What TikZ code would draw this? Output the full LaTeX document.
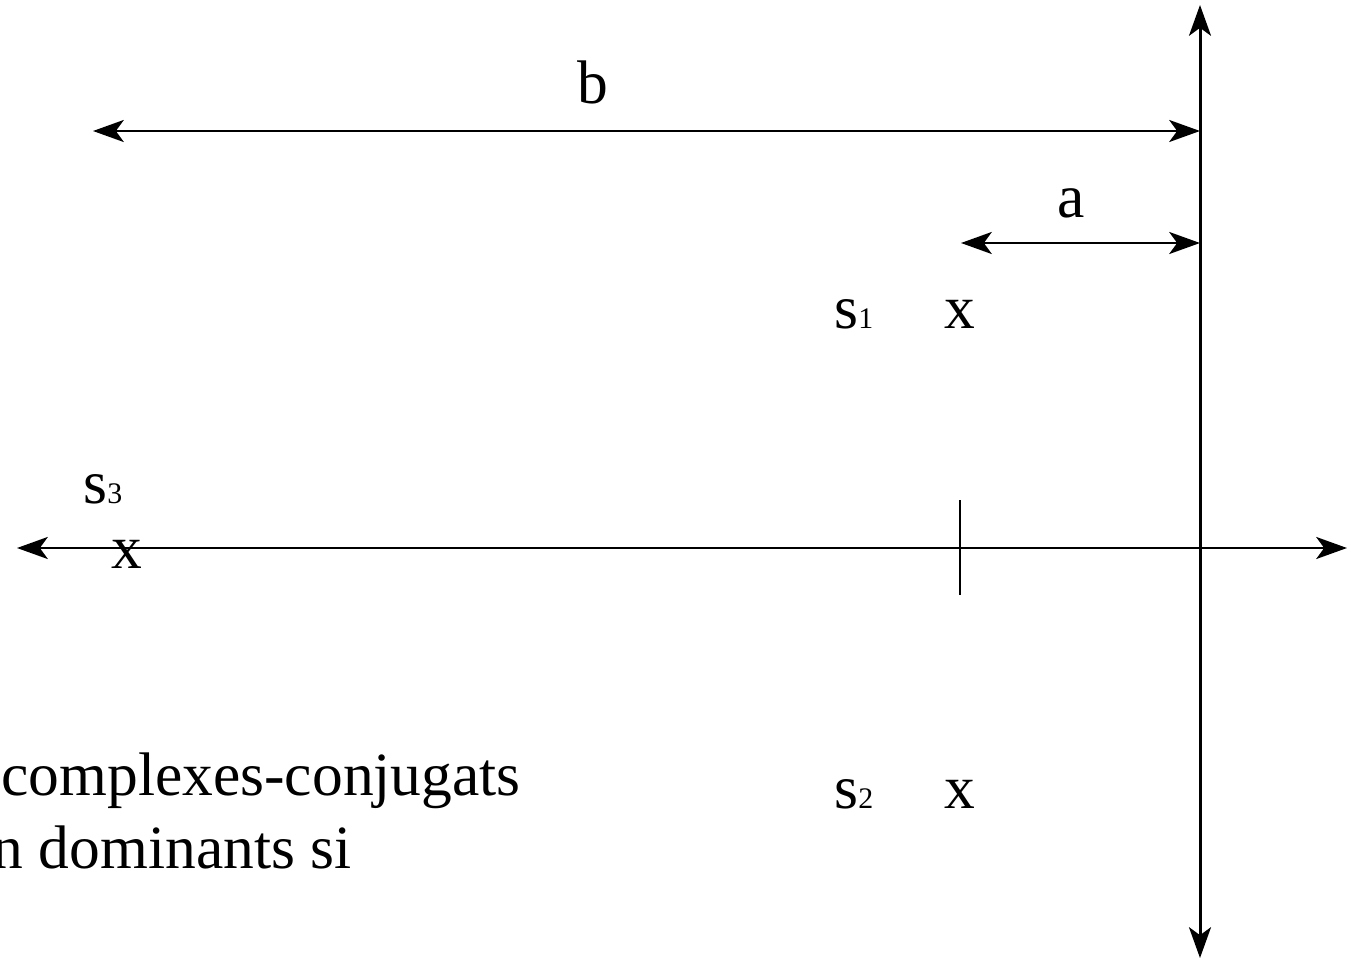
\documentclass[tikz,border=0pt]{standalone}
\usepackage{fontspec}
\setmainfont{Liberation Serif}
\usetikzlibrary{arrows.meta}
\newcommand{\idx}[1]{{\fontsize{17}{20}\selectfont #1}}

\begin{document}
\begin{tikzpicture}[x=0.02cm,y=-0.02cm,>={Stealth[length=17.5pt,width=12.5pt,inset=4.5pt]},line width=1.7pt,every node/.style={font=\fontsize{35}{42}\selectfont,inner sep=0pt},lbl/.style={anchor=base}]
\useasboundingbox (0,0) rectangle (1347,960);
\clip (0,0) rectangle (1347,960);
% axes
\coordinate (reW) at (17,548);
\coordinate (reE) at (1347,548);
\coordinate (imN) at (1200,5);
\coordinate (imS) at (1200,958);
\draw[<->] (reW)--(reE);
\draw[<->] (imS)--(imN);
\coordinate (tickN) at (960,500);
\coordinate (tickS) at (960,595);
\draw (tickN)--(tickS);
% distances
\coordinate (bW) at (93,131);
\coordinate (bE) at (1200,131);
\coordinate (aW) at (961,243);
\coordinate (aE) at (1200,243);
\draw[<->] (bW)--node[lbl,pos=.452,yshift=.56cm] (blab) {b}(bE);
\draw[<->] (aW)--node[lbl,pos=.46,yshift=.52cm] (alab) {a}(aE);
% poles
\node[lbl] (p1) at (960,328) {x};
\node[lbl] (p2) at (960,808) {x};
\node[lbl] (p3) at (127,568) {x};
\node[lbl,anchor=base west] (s1) at (833,328) {s\idx{1}};
\node[lbl,anchor=base west] (s2) at (833,808) {s\idx{2}};
\node[lbl,anchor=base west] (s3) at (82,503) {s\idx{3}};
% text
\node[anchor=base west] (txt1) at (0,795) {complexes-conjugats};
\node[anchor=base east] (txt2) at (353,868) {n dominants si};
\end{tikzpicture}
\end{document}
